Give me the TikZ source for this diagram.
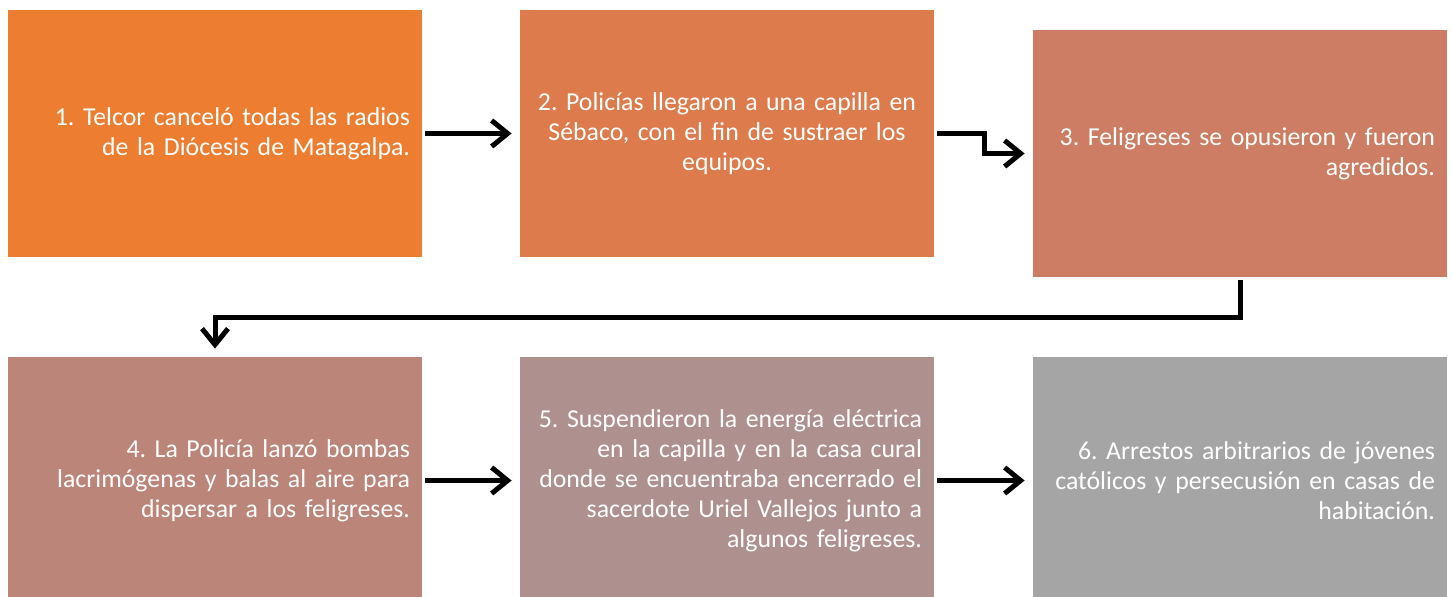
\documentclass[tikz,border=0pt]{standalone}
\usepackage{fontspec}
\setmainfont{Carlito}
\usetikzlibrary{arrows.meta}

\definecolor{naranja}{HTML}{ED7D31}
\definecolor{naranjab}{HTML}{DE7B4D}
\definecolor{salmon}{HTML}{CC7D63}
\definecolor{rosado}{HTML}{BC857A}
\definecolor{malva}{HTML}{AE918F}
\definecolor{gris}{HTML}{A5A5A5}

\begin{document}
\frenchspacing
\begin{tikzpicture}[x=0.5pt, y=-0.5pt,
    stepbox/.style={minimum width=207pt, minimum height=123.5pt, inner xsep=6pt,
                    inner ysep=7pt, text width=195pt, align=right, text=white,
                    font=\fontsize{12.9}{15}\selectfont},
    flow/.style={line width=2.5pt, -{Straight Barb[length=8pt,width=13pt]},
                 shorten <=1.5pt, shorten >=4pt}]
            \clip (0,0) rectangle (1452,597);
            \node[stepbox, fill=naranja] (p1) at (215, 133.5) {1. Telcor canceló todas las radios\\ de la Diócesis de Matagalpa.};
            \node[stepbox, fill=naranjab, align=center] (p2) at (727, 133.5) {2. Policías llegaron a una capilla en\\ Sébaco, con el fin de sustraer los\\ equipos.};
            \node[stepbox, fill=salmon] (p3) at (1240, 153.5) {3. Feligreses se opusieron y fueron\\ agredidos.};
            \node[stepbox, fill=rosado] (p4) at (215, 480.5) {4. La Policía lanzó bombas\\ lacrimógenas y balas al aire para\\ dispersar a los feligreses.};
            \node[stepbox, fill=malva] (p5) at (727, 480.5) {5. Suspendieron la energía eléctrica\\ en la capilla y en la casa cural\\ donde se encuentraba encerrado el\\ sacerdote Uriel Vallejos junto a\\ algunos feligreses.};
            \node[stepbox, fill=gris] (p6) at (1240, 480.5) {6. Arrestos arbitrarios de jóvenes\\ católicos y persecusión en casas de\\ habitación.};
            \draw[flow] (p1) -- (p2);
            \draw[flow] (p2.east) -- ++(50,0) |- (p3.west);
            \draw[flow] (p3.south) -- ++(0,40) -| (p4.north);
            \draw[flow] (p4) -- (p5);
            \draw[flow] (p5) -- (p6);
        \end{tikzpicture}
\end{document}
